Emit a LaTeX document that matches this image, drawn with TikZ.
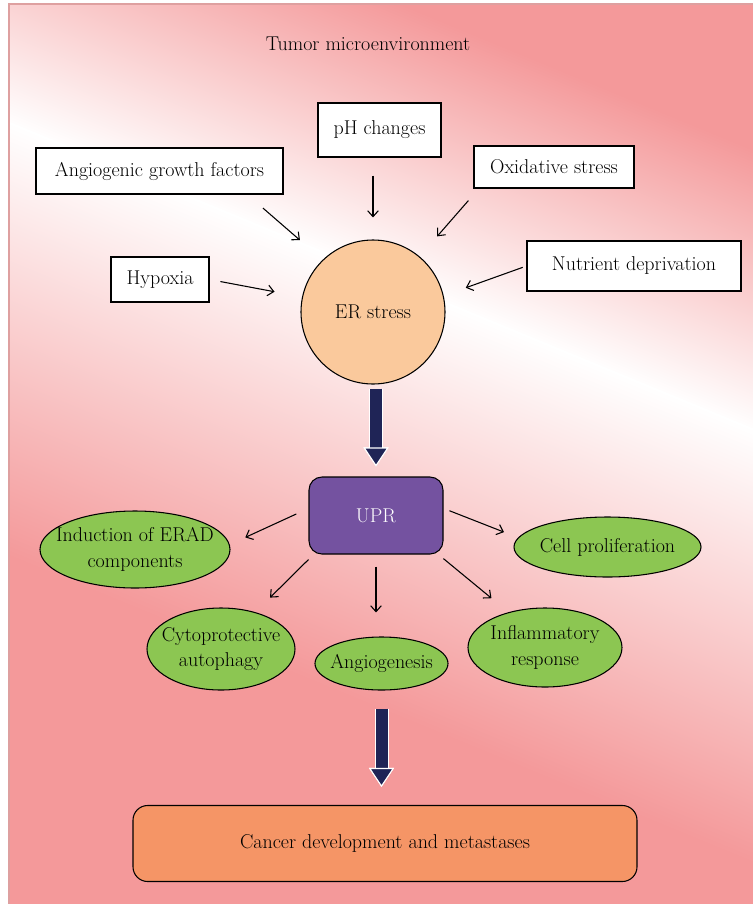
\documentclass[tikz,border=0pt]{standalone}
\usepackage{amsmath, amsfonts, tikz}
\usetikzlibrary{arrows.meta, shapes.geometric}
\definecolor{bgpink}{RGB}{244,153,154}
\definecolor{framecol}{RGB}{222,160,160}
\definecolor{peach}{RGB}{250,201,156}
\definecolor{uprpurple}{RGB}{116,82,160}
\definecolor{leafgreen}{RGB}{140,198,82}
\definecolor{cancerorange}{RGB}{245,149,102}
\definecolor{navyarrow}{RGB}{31,36,86}
\begin{document}
\begin{tikzpicture}[x=0.75pt, y=-0.75pt,
  font=\fontsize{15}{19}\selectfont,
  >={Straight Barb[length=4.5pt,width=8pt]},
  factor/.style={draw, fill=white, line width=0.8pt, inner sep=0pt},
  outcome/.style={ellipse, draw, fill=leafgreen, line width=0.8pt, inner xsep=-16pt, inner ysep=0pt, align=center},
  thinarrow/.style={->, line width=0.8pt},
  bigarrow/.style={draw=navyarrow, line width=9pt,
    -{Triangle[length=14.25pt,width=18.75pt,color=white,fill=navyarrow,line width=0.8pt]},
    preaction={draw=white, line width=10.5pt}}]
\useasboundingbox (0,0) rectangle (753,904);
\fill[white] (0,0) rectangle (753,904);

\begin{scope}
\clip (9,4) rectangle (753,904);
\fill[bgpink] (0,0) rectangle (753,904);
\begin{scope}[transform canvas={rotate around={-22.4:(0,120)}}]
\shade[top color=bgpink, bottom color=white] (-500,-140) rectangle (1500,122);
\shade[top color=white, bottom color=bgpink] (-500,118) rectangle (1500,520);
\end{scope}
\end{scope}
\draw[framecol, line width=0.8pt] (9,4) rectangle (780,930);

\node (tme) at (368,44) {Tumor microenvironment};

\node[factor, minimum width=92.25pt, minimum height=40.5pt] (ph) at (379.5,130) {pH changes};
\node[factor, minimum width=185.25pt, minimum height=34.5pt] (agf) at (159.5,171) {Angiogenic growth factors};
\node[factor, minimum width=120pt, minimum height=31.5pt] (oxs) at (554,167) {Oxidative stress};
\node[factor, minimum width=73.5pt, minimum height=33.75pt] (hyp) at (160,279.5) {Hypoxia};
\node[factor, minimum width=160.5pt, minimum height=37.5pt] (nut) at (634,266) {Nutrient deprivation};

\node[circle, draw, fill=peach, line width=0.8pt, minimum size=108pt, inner sep=0pt] (er) at (373,312) {ER stress};

\node[draw, fill=uprpurple, text=white, rounded corners=9.75pt, line width=0.8pt, minimum width=100.5pt, minimum height=57.75pt] (upr) at (376,515.5) {UPR};

\node[outcome, minimum width=142.5pt, minimum height=57.75pt] (erad) at (135,549.5) {Induction of ERAD\\components};
\node[outcome, minimum width=111pt, minimum height=61.5pt] (cyt) at (221,649) {Cytoprotective\\autophagy};
\node[outcome, minimum width=99.75pt, minimum height=39.75pt] (ang) at (381.5,663.5) {Angiogenesis};
\node[outcome, minimum width=115.5pt, minimum height=59.25pt] (inf) at (545,647.5) {Inflammatory\\response};
\node[outcome, minimum width=140.25pt, minimum height=45pt] (cell) at (607.5,547) {Cell proliferation};

\node[draw, fill=cancerorange, rounded corners=11pt, line width=0.8pt, minimum width=378pt, minimum height=57pt] (can) at (385,843.5) {Cancer development and metastases};

\draw[thinarrow, shorten <=13.5pt, shorten >=16.5pt] (er.north |- ph.south) -- (er.north);
\draw[thinarrow, shorten <=15.5pt, shorten >=22.5pt] (agf.-15.6) -- (er.134);
\draw[thinarrow, shorten <=12pt, shorten >=20pt] (oxs.-164) -- (er.50);
\draw[thinarrow, shorten <=8.3pt, shorten >=21pt] (hyp.east) -- (er.168);
\draw[thinarrow, shorten <=3pt, shorten >=17.6pt] (nut.west) -- (er.13);

\draw[bigarrow, shorten <=3pt, shorten >=7.5pt] (upr.north |- er.south) -- (upr.north);

\draw[thinarrow, shorten <=10pt, shorten >=12.8pt] (upr.174) -- (erad.3);
\draw[thinarrow, shorten <=5.3pt, shorten >=15.5pt] (upr.-148) -- (cyt.47);
\draw[thinarrow, shorten <=9pt, shorten >=18pt] (upr.south) -- (upr.south |- ang.north);
\draw[thinarrow, shorten <=4.8pt, shorten >=16.5pt] (upr.-32) -- (inf.136);
\draw[thinarrow, shorten <=4.8pt, shorten >=11.3pt] (upr.6) -- (cell.174);

\draw[bigarrow, shorten <=13.5pt, shorten >=13.5pt] (ang.south) -- (ang.south |- can.north);
\end{tikzpicture}
\end{document}
